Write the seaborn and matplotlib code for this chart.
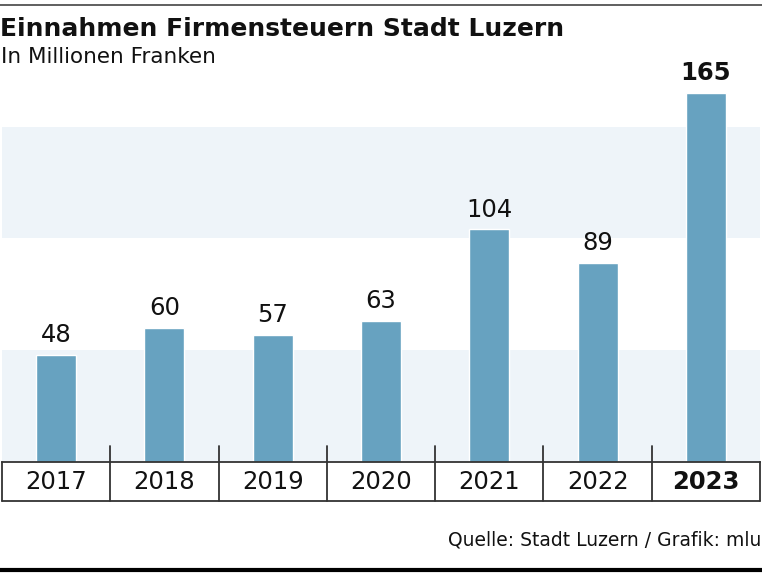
import matplotlib
matplotlib.use("Agg")
import matplotlib.pyplot as plt
import seaborn as sns
import pandas as pd
from matplotlib.lines import Line2D

years = ["2017", "2018", "2019", "2020", "2021", "2022", "2023"]
values = [48, 60, 57, 63, 104, 89, 165]
bands = [(0, 50), (100, 150)]
title = "Einnahmen Firmensteuern Stadt Luzern"
subtitle = "In Millionen Franken"
source = "Quelle: Stadt Luzern / Grafik: mlu"

sns.set_theme(style="white")
plt.rcParams["font.family"] = ["DejaVu Sans"]

BAR = "#67a2c0"
BAND = "#eef4f9"
LINE = "#333333"

W, H = 762, 576
fig = plt.figure(figsize=(W / 100, H / 100), dpi=100)
ax_left, ax_right = 2, 760
ax_bottom_px = 462
ymax = 175
px_per_unit = 369 / 165
ax_h = ymax * px_per_unit
ax = fig.add_axes([ax_left / W, 1 - ax_bottom_px / H, (ax_right - ax_left) / W, ax_h / H])

df = pd.DataFrame({"year": years, "value": values})
for lo, hi in bands:
    ax.axhspan(lo, hi, color=BAND, zorder=0, lw=0)
sns.barplot(data=df, x="year", y="value", color=BAR, width=0.37, ax=ax,
            saturation=1, zorder=2)
ax.set_xlim(-0.5, len(years) - 0.5)
ax.set_ylim(0, ymax)
for s in ["top", "right", "left"]:
    ax.spines[s].set_visible(False)
ax.spines["bottom"].set_color(LINE)
ax.spines["bottom"].set_linewidth(1.3)
ax.set_yticks([])
ax.set_xlabel("")
ax.set_ylabel("")

# value labels
cont = ax.containers[0]
labels = ax.bar_label(cont, labels=[str(v) for v in values], padding=5.5,
                      fontsize=17.5, color="#111111")
labels[-1].set_fontweight("bold")

# tick labels
ax.tick_params(axis="x", length=0, pad=14.2, labelsize=17.5, labelcolor="#111111")
for lab in ax.get_xticklabels():
    lab.set_va("center")
ax.get_xticklabels()[-1].set_fontweight("bold")

# box around categories
tr = ax.get_xaxis_transform()
y_top_sep = 16 / ax_h
y_box_bot = -39 / ax_h
for i in range(1, len(years)):
    ax.add_line(Line2D([i - 0.5, i - 0.5], [y_top_sep, y_box_bot], transform=tr,
                       color=LINE, lw=1.3, clip_on=False, zorder=3))
for xe in [-0.5, len(years) - 0.5]:
    ax.add_line(Line2D([xe, xe], [0, y_box_bot], transform=tr,
                       color=LINE, lw=1.3, clip_on=False, zorder=3))
ax.add_line(Line2D([-0.5, len(years) - 0.5], [y_box_bot, y_box_bot], transform=tr,
                   color=LINE, lw=1.3, clip_on=False, zorder=3))

# titles
fig.text(0 / W, 1 - 36 / H, title, fontsize=18, fontweight="bold",
         va="baseline", ha="left", color="#111111")
fig.text(1 / W, 1 - 63 / H, subtitle, fontsize=15.5, va="baseline", ha="left",
         color="#111111")
fig.text(761 / W, 1 - 546 / H, source, fontsize=13.5, va="baseline", ha="right",
         color="#111111")

# top and bottom rules
fig.add_artist(Line2D([0, 1], [1 - 4.5 / H, 1 - 4.5 / H], transform=fig.transFigure,
                      color="#444444", lw=1.2))
fig.add_artist(Line2D([0, 1], [1 - 570 / H, 1 - 570 / H], transform=fig.transFigure,
                      color="#000000", lw=3))

fig.savefig("out.png", dpi=100)
